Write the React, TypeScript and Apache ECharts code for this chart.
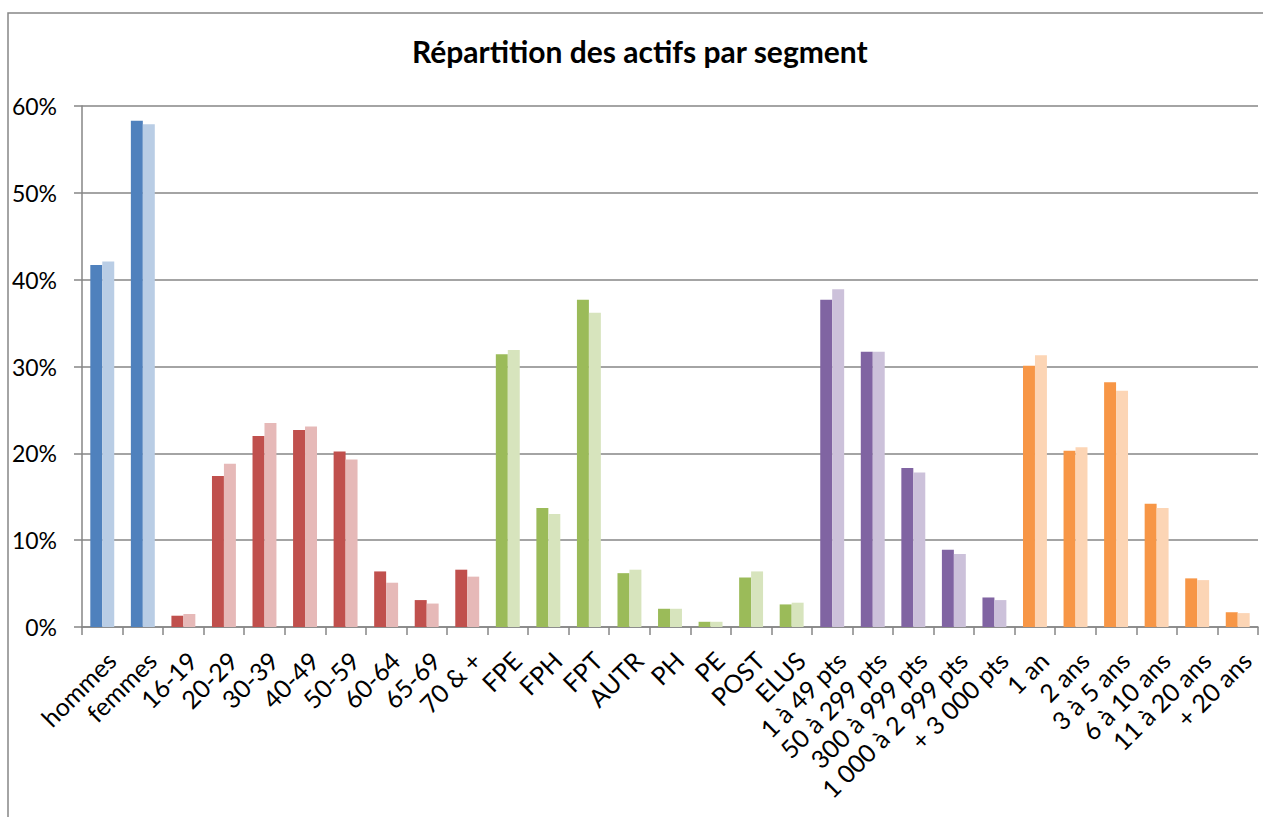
import React, { useEffect, useRef } from "react";
import * as echarts from "echarts";

const title = "Répartition des actifs par segment";

const categories = [
  "hommes", "femmes",
  "16-19", "20-29", "30-39", "40-49", "50-59", "60-64", "65-69", "70 & +",
  "FPE", "FPH", "FPT", "AUTR", "PH", "PE", "POST", "ELUS",
  "1 à 49 pts", "50 à 299 pts", "300 à 999 pts", "1 000 à 2 999 pts", "+ 3 000 pts",
  "1 an", "2 ans", "3 à 5 ans", "6 à 10 ans", "11 à 20 ans", "+ 20 ans",
];

// segment group of each category (0 sexe, 1 âge, 2 fonction publique, 3 points, 4 ancienneté)
const categoryGroup = [
  0, 0,
  1, 1, 1, 1, 1, 1, 1, 1,
  2, 2, 2, 2, 2, 2, 2, 2,
  3, 3, 3, 3, 3,
  4, 4, 4, 4, 4, 4,
];

const series1Values = [
  41.7, 58.3,
  1.3, 17.4, 22.0, 22.7, 20.2, 6.4, 3.1, 6.6,
  31.4, 13.7, 37.7, 6.2, 2.1, 0.6, 5.7, 2.6,
  37.7, 31.7, 18.3, 8.9, 3.4,
  30.1, 20.3, 28.2, 14.2, 5.6, 1.7,
];

const series2Values = [
  42.1, 57.9,
  1.5, 18.8, 23.5, 23.1, 19.3, 5.1, 2.7, 5.8,
  31.9, 13.0, 36.2, 6.6, 2.1, 0.6, 6.4, 2.8,
  38.9, 31.7, 17.8, 8.4, 3.1,
  31.3, 20.7, 27.2, 13.7, 5.4, 1.6,
];

const darkColors = ["#4F81BD", "#C0504D", "#9BBB59", "#8064A2", "#F79646"];
const lightColors = ["#B9CDE5", "#E6B9B8", "#D7E4BD", "#CCC1DA", "#FCD5B5"];

const FONT = "Lato, 'Open Sans', sans-serif";
const GRAY = "#868686";

export default function App() {
  const ref = useRef<HTMLDivElement>(null);

  useEffect(() => {
    if (!ref.current) return;
    const chart = echarts.init(ref.current, null, { renderer: "svg" });
    chart.setOption({
      animation: false,
      backgroundColor: "#ffffff",
      title: {
        text: title,
        left: 412,
        top: 36,
        padding: 0,
        textStyle: { fontFamily: FONT, fontWeight: "bold", fontSize: 30, color: "#000000" },
      },
      graphic: [
        {
          type: "rect",
          z: -1,
          silent: true,
          shape: { x: 8, y: 13, width: 1400, height: 1000 },
          style: { fill: "none", stroke: GRAY, lineWidth: 1.5 },
        },
      ],
      grid: { left: 82, right: 5, top: 106, bottom: 190, containLabel: false },
      xAxis: {
        type: "category",
        data: categories,
        boundaryGap: true,
        axisLine: { show: true, lineStyle: { color: GRAY, width: 1.5 } },
        axisTick: { show: true, length: 8, lineStyle: { color: GRAY, width: 1.5 } },
        axisLabel: {
          interval: 0,
          rotate: 45,
          margin: 20,
          align: "right",
          verticalAlign: "top",
          color: "#000000",
          fontFamily: FONT,
          fontSize: 25,
        },
      },
      yAxis: {
        type: "value",
        min: 0,
        max: 60,
        interval: 10,
        axisLine: { show: true, lineStyle: { color: GRAY, width: 1.5 } },
        axisTick: { show: true, length: 8, lineStyle: { color: GRAY, width: 1.5 } },
        splitLine: { show: true, lineStyle: { color: GRAY, width: 1.5 } },
        axisLabel: {
          formatter: "{value}%",
          margin: 25,
          color: "#000000",
          fontFamily: FONT,
          fontSize: 23,
        },
      },
      series: [
        {
          name: "Série 1",
          type: "bar",
          barGap: "0%",
          barCategoryGap: "41%",
          data: series1Values.map((v, i) => ({
            value: v,
            itemStyle: { color: darkColors[categoryGroup[i]] },
          })),
        },
        {
          name: "Série 2",
          type: "bar",
          barGap: "0%",
          barCategoryGap: "41%",
          data: series2Values.map((v, i) => ({
            value: v,
            itemStyle: { color: lightColors[categoryGroup[i]] },
          })),
        },
      ],
    });
    return () => chart.dispose();
  }, []);

  return (
    <div
      ref={ref}
      style={{ position: "fixed", left: 0, top: 0, width: 1263, height: 817 }}
    />
  );
}
